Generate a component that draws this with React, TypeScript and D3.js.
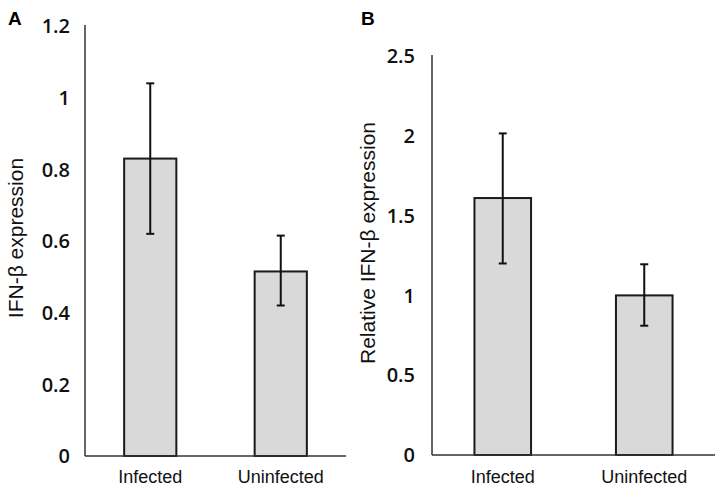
import React from "react";
import * as d3 from "d3";

const categories = ["Infected", "Uninfected"];

const valuesA = [0.83, 0.515];
const lowA = [0.62, 0.42];
const highA = [1.04, 0.615];
const ticksA = [0, 0.2, 0.4, 0.6, 0.8, 1, 1.2];

const valuesB = [1.61, 1.0];
const lowB = [1.2, 0.81];
const highB = [2.015, 1.195];
const ticksB = [0, 0.5, 1, 1.5, 2, 2.5];

type PanelProps = {
  letter: string;
  letterX: number;
  title: string;
  titleX: number;
  titleY: number;
  x0: number;
  x1: number;
  yTop: number;
  yBase: number;
  yMax: number;
  values: number[];
  low: number[];
  high: number[];
  ticks: number[];
  tickRight: number;
};

function Panel(p: PanelProps) {
  const x = d3
    .scaleBand<string>()
    .domain(categories)
    .range([p.x0, p.x1])
    .paddingInner(0.6)
    .paddingOuter(0.3);
  const y = d3.scaleLinear().domain([0, p.yMax]).range([p.yBase, p.yTop]);
  const bw = x.bandwidth();
  const cap = 4;
  return (
    <g>
      <text
        x={p.letterX}
        y={25}
        fontFamily="Liberation Sans, Arial, sans-serif"
        fontWeight="bold"
        fontSize={19}
        fill="#000"
      >
        {p.letter}
      </text>
      <text
        transform={`translate(${p.titleX},${p.titleY}) rotate(-90)`}
        textAnchor="middle"
        fontFamily="Liberation Sans, Arial, sans-serif"
        fontSize={21}
        fill="#111"
      >
        {p.title}
      </text>
      {p.ticks.map((t) => (
        <text
          key={t}
          x={p.tickRight}
          y={y(t)}
          dy="0.36em"
          textAnchor="end"
          fontFamily="Open Sans, sans-serif"
          fontWeight={600}
          fontSize={20}
          fill="#111"
        >
          {d3.format("~g")(t)}
        </text>
      ))}
      {categories.map((c, i) => {
        const cx = (x(c) as number) + bw / 2;
        return (
          <g key={c}>
            <rect
              x={x(c) as number}
              y={y(p.values[i])}
              width={bw}
              height={p.yBase - y(p.values[i])}
              fill="#d9d9d9"
              stroke="#1a1a1a"
              strokeWidth={2}
            />
            <line x1={cx} x2={cx} y1={y(p.low[i])} y2={y(p.high[i])} stroke="#111" strokeWidth={2} />
            <line x1={cx - cap} x2={cx + cap} y1={y(p.low[i])} y2={y(p.low[i])} stroke="#111" strokeWidth={2} />
            <line x1={cx - cap} x2={cx + cap} y1={y(p.high[i])} y2={y(p.high[i])} stroke="#111" strokeWidth={2} />
            <text
              x={cx}
              y={483}
              textAnchor="middle"
              fontFamily="Liberation Sans, Arial, sans-serif"
              fontSize={18}
              fill="#111"
            >
              {c}
            </text>
          </g>
        );
      })}
      <line x1={p.x0} x2={p.x0} y1={p.yTop - 1} y2={p.yBase} stroke="#333" strokeWidth={1.5} />
      <line x1={p.x0} x2={p.x1} y1={p.yBase} y2={p.yBase} stroke="#333" strokeWidth={1.5} />
    </g>
  );
}

export default function App() {
  return (
    <svg
      width={724}
      height={491}
      style={{ position: "absolute", left: 0, top: 0, background: "#fff" }}
    >
      <rect x={0} y={0} width={724} height={491} fill="#fff" />
      <Panel
        letter="A"
        letterX={8}
        title="IFN-β expression"
        titleX={23}
        titleY={238}
        x0={85}
        x1={346}
        yTop={26}
        yBase={456}
        yMax={1.2}
        values={valuesA}
        low={lowA}
        high={highA}
        ticks={ticksA}
        tickRight={70}
      />
      <Panel
        letter="B"
        letterX={361}
        title="Relative IFN-β expression"
        titleX={375}
        titleY={243}
        x0={432}
        x1={715}
        yTop={56}
        yBase={455}
        yMax={2.5}
        values={valuesB}
        low={lowB}
        high={highB}
        ticks={ticksB}
        tickRight={415}
      />
    </svg>
  );
}
